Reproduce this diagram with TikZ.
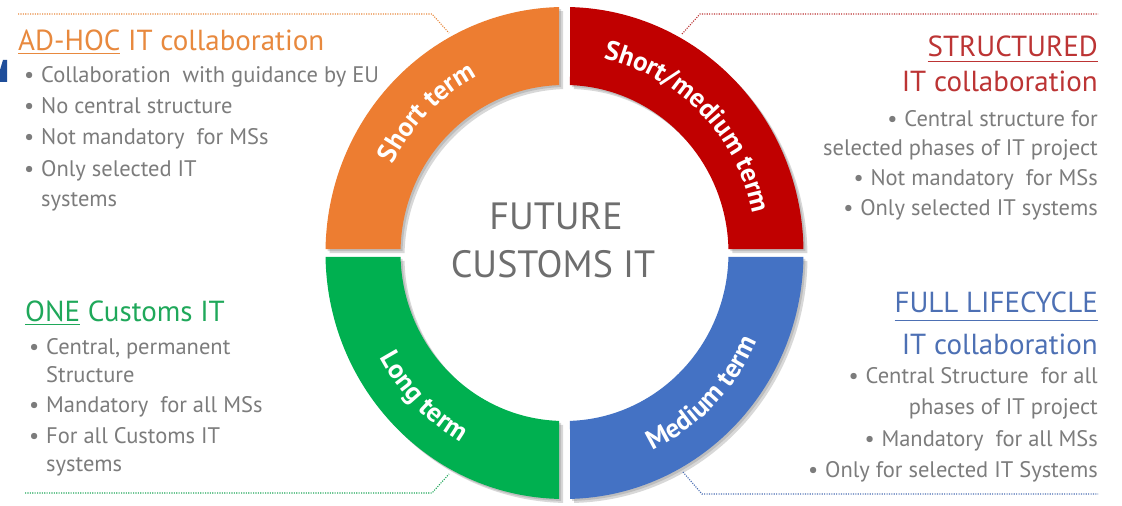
\documentclass[tikz,border=0pt]{standalone}
\usepackage{fontspec}
\setmainfont{PT Sans}
\usetikzlibrary{decorations.text}
\definecolor{cOr}{HTML}{ED7D31}
\definecolor{cRe}{HTML}{C00000}
\definecolor{cGr}{HTML}{00B050}
\definecolor{cBl}{HTML}{4472C4}
\definecolor{tOr}{HTML}{E8893E}
\definecolor{tRe}{HTML}{BC3434}
\definecolor{tGr}{HTML}{1FA85A}
\definecolor{tBl}{HTML}{4D70B4}
\definecolor{gtext}{HTML}{7C7C7C}
\definecolor{ctext}{HTML}{6E6E6E}
\definecolor{dkblue}{HTML}{1F4E9A}
\newcommand\bl{\makebox[17pt][l]{\textbullet}}
\newcommand\myul[2]{\setbox0=\hbox{#2}\leavevmode\rlap{\rule[-#1]{\wd0}{1.1pt}}\box0\relax}
\newcommand\ringfont{\fontsize{27}{27}\selectfont\bfseries}
\newcommand\ringpath[4]{(#1:239 and 246) arc[start angle=#1, end angle=#2, x radius=239, y radius=246] -- (#4:164 and 168) arc[start angle=#4, end angle=#3, x radius=164, y radius=168] -- cycle}
\begin{document}
\begin{tikzpicture}[x=1pt,y=1pt,
  ttl/.style={inner sep=0pt, font=\fontsize{29}{31}\selectfont},
  bul/.style={inner sep=0pt, text=gtext, font=\fontsize{22.5}{25}\selectfont},
  ctr/.style={inner sep=0pt, text=ctext, font=\fontsize{38}{40}\selectfont},
  conn/.style={line width=1.1pt, dash pattern=on 1.1pt off 1.3pt},
  shd/.style={fill=black!50, opacity=0.3},
]
\useasboundingbox (0,0) rectangle (1122,506);
\fill[white] (0,0) rectangle (1122,506);
% fragment at left edge
\fill[dkblue] (3,446) -- (7,446) -- (7,424) -- (0,424) -- (0,436) -- cycle;

% ring
\begin{scope}[shift={(564.5,253)}]
  \foreach \s/\e/\si/\ei in {91.32/179.07/91.92/178.64, 0.93/88.68/1.36/88.08, 180.93/268.68/181.36/268.08, 271.32/359.07/271.92/358.64}{
    \fill[shd, shift={(2,-2)}] \ringpath{\s}{\e}{\si}{\ei};
    \fill[shd, shift={(4,-4)}] \ringpath{\s}{\e}{\si}{\ei};
  }
  \fill[cOr] \ringpath{91.32}{179.07}{91.92}{178.64};
  \fill[cRe] \ringpath{0.93}{88.68}{1.36}{88.08};
  \fill[cGr] \ringpath{180.93}{268.68}{181.36}{268.08};
  \fill[cBl] \ringpath{271.32}{359.07}{271.92}{358.64};
  \path[decorate, decoration={text along path, text align=center, text color=white, text={|\ringfont|Short term}}]
    (175:192 and 198) arc[start angle=175, end angle=95, x radius=192, y radius=198];
  \path[decorate, decoration={text along path, text align=center, text color=white, text={|\ringfont|Short/medium term}}]
    (88:192 and 198) arc[start angle=88, end angle=2, x radius=192, y radius=198];
  \path[decorate, decoration={text along path, text align=center, text color=white, text={|\ringfont|Long term}}]
    (182:211 and 217) arc[start angle=182, end angle=268, x radius=211, y radius=217];
  \path[decorate, decoration={text along path, text align=center, text color=white, text={|\ringfont|Medium term}}]
    (272:211 and 217) arc[start angle=272, end angle=358, x radius=211, y radius=217];
\end{scope}

% centre
\node[ctr, anchor=base] (fut) at (556,276) {FUTURE};
\node[ctr, anchor=base] (cit) at (553,228) {CUSTOMS IT};

% top left
\node[ttl, text=tOr, anchor=base west] (tlT) at (18,455) {\myul{3pt}{AD-HOC} IT collaboration};
\node[bul, anchor=base west] (tl1) at (24,423) {\bl Collaboration\ \ with guidance by EU};
\node[bul, anchor=base west] (tl2) at (24,392) {\bl No central structure};
\node[bul, anchor=base west] (tl3) at (24,361) {\bl Not mandatory\ \ for MSs};
\node[bul, anchor=base west] (tl4) at (24,329) {\bl Only selected IT};
\node[bul, anchor=base west] (tl5) at (41,299) {systems};

% top right
\node[ttl, text=tRe, anchor=base east] (trT) at (1098,449) {\myul{5pt}{STRUCTURED}};
\node[ttl, text=tRe, anchor=base east] (trT2) at (1098,414) {IT collaboration};
\node[bul, anchor=base east] (tr1) at (1098,379) {\bl Central structure for};
\node[bul, anchor=base east] (tr2) at (1098,350) {selected phases of IT project};
\node[bul, anchor=base east] (tr3) at (1098,320) {\bl Not mandatory\ \ for MSs};
\node[bul, anchor=base east] (tr4) at (1098,290) {\bl Only selected IT systems};

% bottom left
\node[ttl, text=tGr, anchor=base west] (blT) at (25,184) {\myul{3pt}{ONE} Customs IT};
\node[bul, anchor=base west] (bl1) at (29,151) {\bl Central, permanent};
\node[bul, anchor=base west] (bl2) at (46,123) {Structure};
\node[bul, anchor=base west] (bl3) at (29,93) {\bl Mandatory\ \ for all MSs};
\node[bul, anchor=base west] (bl4) at (29,62) {\bl For all Customs IT};
\node[bul, anchor=base west] (bl5) at (46,34) {systems};

% bottom right
\node[ttl, text=tBl, anchor=base east] (brT) at (1098,193) {\myul{8pt}{FULL LIFECYCLE}};
\node[ttl, text=tBl, anchor=base east] (brT2) at (1098,151) {IT collaboration};
\node[bul, anchor=base east] (br1) at (1098,122) {\bl Central Structure\ \ for all};
\node[bul, anchor=base east] (br2) at (1098,91) {phases of IT project};
\node[bul, anchor=base east] (br3) at (1098,59) {\bl Mandatory\ \ for all MSs};
\node[bul, anchor=base east] (br4) at (1098,28) {\bl Only for selected IT Systems};

% dotted connectors
\coordinate (oA) at (18,492); \coordinate (oB) at (432,492); \coordinate (oC) at (449,473);
\coordinate (rA) at (682,472); \coordinate (rB) at (700,492); \coordinate (rC) at (1098,492);
\coordinate (gA) at (25,13); \coordinate (gB) at (432,13); \coordinate (gC) at (449,32);
\coordinate (bA) at (683,34); \coordinate (bB) at (702,12); \coordinate (bC) at (1098,12);
\draw[conn, tOr] (oA) -- (oB) -- (oC);
\draw[conn, tRe] (rA) -- (rB) -- (rC);
\draw[conn, tGr] (gA) -- (gB) -- (gC);
\draw[conn, tBl] (bA) -- (bB) -- (bC);
\end{tikzpicture}
\end{document}
